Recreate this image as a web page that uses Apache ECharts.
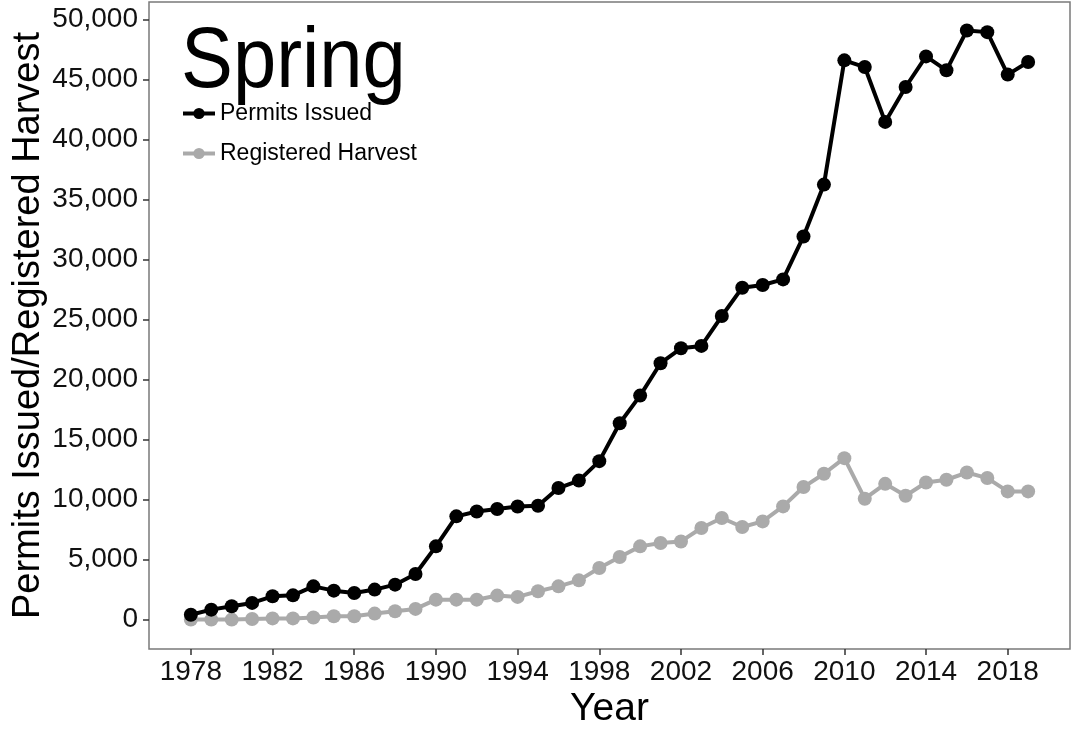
<!DOCTYPE html>
<html>
<head>
<meta charset="utf-8">
<script src="https://cdn.jsdelivr.net/npm/echarts@6/dist/echarts.min.js"></script>
<style>
html,body{margin:0;padding:0;background:#fff;}
#chart{width:1075px;height:730px;}
</style>
</head>
<body>
<div id="chart"></div>
<script>
const years = [1978,1979,1980,1981,1982,1983,1984,1985,1986,1987,1988,1989,1990,1991,1992,1993,1994,1995,1996,1997,1998,1999,2000,2001,2002,2003,2004,2005,2006,2007,2008,2009,2010,2011,2012,2013,2014,2015,2016,2017,2018,2019];
const permitsIssued = [400,830,1110,1390,1940,2020,2770,2410,2220,2500,2910,3800,6100,8600,9010,9210,9420,9480,10960,11580,13200,16360,18660,21360,22600,22800,25290,27650,27870,28340,31920,36240,46590,46030,41460,44370,46920,45760,49080,48940,45400,46450];
const registeredHarvest = [0,0,0,50,100,100,170,280,280,500,690,890,1660,1660,1660,2000,1890,2360,2770,3270,4300,5210,6100,6380,6510,7630,8460,7710,8180,9430,11040,12150,13450,10070,11310,10320,11420,11650,12250,11790,10680,10680];
const xTicks = [1978,1982,1986,1990,1994,1998,2002,2006,2010,2014,2018];
const yTicks = [0,5000,10000,15000,20000,25000,30000,35000,40000,45000,50000];

const FONT = 'Liberation Sans, Arial, sans-serif';
function fmt(v){ return String(v).replace(/\B(?=(\d{3})+(?!\d))/g, ','); }

const chart = echarts.init(document.getElementById('chart'));
chart.setOption({
  animation: false,
  backgroundColor: '#fff',
  graphic: [{
    type: 'text', left: 181, top: 21, scaleX: 0.915, z: 10,
    style: { text: 'Spring', fontFamily: FONT, fontSize: 85, fill: '#000' }
  }],
  legend: {
    orient: 'vertical',
    left: 176, top: 97,
    itemWidth: 32, itemHeight: 14, itemGap: 17,
    lineStyle: { width: 4 },
    textStyle: { fontFamily: FONT, fontSize: 23, color: '#000' },
    data: ['Permits Issued', 'Registered Harvest']
  },
  grid: {
    left: 149, right: 5, top: 2, bottom: 81,
    containLabel: false, outerBoundsMode: 'none',
    show: true, borderColor: '#7a7a7a', borderWidth: 1.5, backgroundColor: '#fff'
  },
  xAxis: {
    type: 'value',
    min: 1975.95, max: 2021.05,
    name: 'Year', nameLocation: 'middle', nameGap: 41, nameMoveOverlap: false,
    nameTextStyle: { fontFamily: FONT, fontSize: 39, color: '#000' },
    axisLine: { show: false, onZero: false },
    splitLine: { show: false },
    axisTick: { show: true, length: 6, lineStyle: { color: '#333', width: 1.5 }, customValues: xTicks },
    axisLabel: { fontFamily: FONT, fontSize: 28, color: '#111', margin: 9, customValues: xTicks, formatter: v => String(v) }
  },
  yAxis: {
    type: 'value',
    min: -2450, max: 51450,
    name: 'Permits Issued/Registered Harvest', nameLocation: 'middle', nameGap: 101, nameMoveOverlap: false,
    nameTextStyle: { fontFamily: FONT, fontSize: 38, color: '#000' },
    axisLine: { show: false, onZero: false },
    splitLine: { show: false },
    axisTick: { show: true, length: 6, lineStyle: { color: '#333', width: 1.5 }, customValues: yTicks },
    axisLabel: { fontFamily: FONT, fontSize: 28, color: '#111', margin: 11, customValues: yTicks, formatter: v => fmt(v) }
  },
  series: [
    {
      name: 'Registered Harvest', type: 'line',
      data: years.map((y, i) => [y, registeredHarvest[i]]),
      symbol: 'circle', symbolSize: 14,
      lineStyle: { color: '#aaaaaa', width: 4 },
      itemStyle: { color: '#aaaaaa' },
      z: 2
    },
    {
      name: 'Permits Issued', type: 'line',
      data: years.map((y, i) => [y, permitsIssued[i]]),
      symbol: 'circle', symbolSize: 14,
      lineStyle: { color: '#000', width: 4 },
      itemStyle: { color: '#000' },
      z: 3
    }
  ]
});
</script>
</body>
</html>
